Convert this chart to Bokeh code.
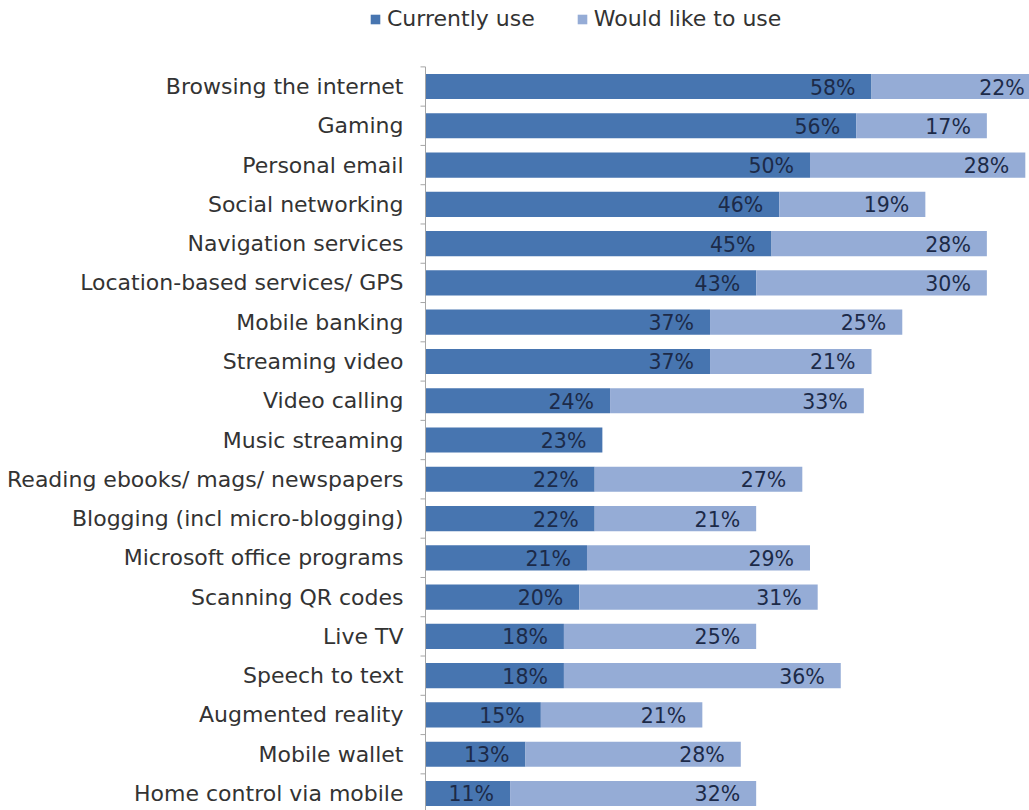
import math
from bokeh.plotting import figure
from bokeh.models import ColumnDataSource, Range1d, Legend, LegendItem
from bokeh.core.properties import value
from bokeh.embed import file_html
from bokeh.resources import INLINE

categories = ["Browsing the internet", "Gaming", "Personal email", "Social networking",
              "Navigation services", "Location-based services/ GPS", "Mobile banking",
              "Streaming video", "Video calling", "Music streaming",
              "Reading ebooks/ mags/ newspapers", "Blogging (incl micro-blogging)",
              "Microsoft office programs", "Scanning QR codes", "Live TV", "Speech to text",
              "Augmented reality", "Mobile wallet", "Home control via mobile"]
currently_use = [58, 56, 50, 46, 45, 43, 37, 37, 24, 23, 22, 22, 21, 20, 18, 18, 15, 13, 11]
would_like = [22, 17, 28, 19, 28, 30, 25, 21, 33, None, 27, 21, 29, 31, 25, 36, 21, 28, 32]
series_names = ["Currently use", "Would like to use"]

DARK = "#4775b0"
LIGHT = "#95acd6"
LABEL = "#1c2a48"
TEXT = "#333333"
AXIS = "#a6a6a6"
FONT = "DejaVu Sans"

n = len(categories)
ys = list(range(n))
w_vals = [w if w is not None else 0 for w in would_like]
ends = [c + w for c, w in zip(currently_use, w_vals)]

src_c = ColumnDataSource(dict(y=ys, left=[0] * n, right=currently_use,
                              txt=[f"{v}%" for v in currently_use]))
src_w = ColumnDataSource(dict(y=ys, left=currently_use, right=ends,
                              txt=[f"{w}%" if w is not None else "" for w in would_like]))
src_cat = ColumnDataSource(dict(x=[0] * n, y=ys, txt=categories))

PX = 7.69  # pixels per percent
p = figure(width=1029, height=810, output_backend="svg", toolbar_location=None,
           x_range=Range1d(-425 / PX, 604 / PX), y_range=Range1d(18.433, -2.19),
           min_border_left=0, min_border_right=0, min_border_top=0, min_border_bottom=0,
           x_axis_location=None, y_axis_location=None)
p.outline_line_color = None
p.xgrid.visible = False
p.ygrid.visible = False

r1 = p.hbar(y="y", left="left", right="right", height=0.64, source=src_c,
            fill_color=DARK, line_color=None)
r2 = p.hbar(y="y", left="left", right="right", height=0.64, source=src_w,
            fill_color=LIGHT, line_color=None)

for s in (src_c, src_w):
    p.text(x="right", y="y", text="txt", source=s, text_align="right",
           text_baseline="middle", x_offset=-16, y_offset=1,
           text_font=value(FONT), text_font_size="20.5px", text_color=LABEL)

# category axis: line, tick marks between categories, labels
p.segment(x0=[0], y0=[-0.5], x1=[0], y1=[n - 0.5], line_color=AXIS, line_width=1)
p.ray(x=[0] * (n + 1), y=[i - 0.5 for i in range(n + 1)], length=5,
      length_units="screen", angle=math.pi, line_color=AXIS, line_width=1)
p.text(x="x", y="y", text="txt", source=src_cat, text_align="right",
       text_baseline="middle", x_offset=-22, y_offset=0,
       text_font=value(FONT), text_font_size="22px", text_color=TEXT)

legend = Legend(items=[LegendItem(label=series_names[0], renderers=[r1]),
                       LegendItem(label=series_names[1], renderers=[r2])],
                orientation="horizontal", location=(369, 779),
                padding=0, margin=0, spacing=41, glyph_width=12, glyph_height=12,
                label_standoff=6, label_text_font=FONT, label_text_font_size="22px",
                label_text_color=TEXT, background_fill_alpha=0, border_line_color=None)
p.add_layout(legend, "center")

open("out.html", "w").write(file_html(p, INLINE))
